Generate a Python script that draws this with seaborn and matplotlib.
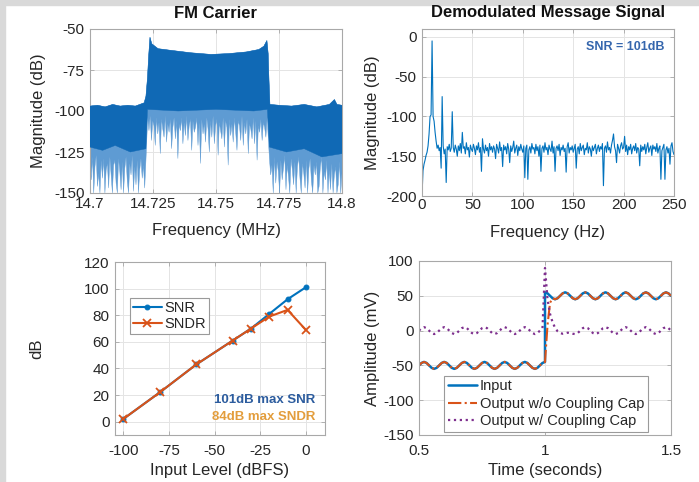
import numpy as np
import pandas as pd
import matplotlib
matplotlib.use("Agg")
import matplotlib.pyplot as plt
import seaborn as sns
from matplotlib.patches import Rectangle

# ---------------- data ----------------
# Panel 1: FM carrier spectrum, upper envelope (MHz, dB)
fm_top_freq = [14.700, 14.703, 14.706, 14.709, 14.712, 14.715, 14.718, 14.7215, 14.7222,
               14.7228, 14.7233, 14.7238, 14.7245, 14.727, 14.732, 14.740, 14.748,
               14.755, 14.762, 14.767, 14.769, 14.7702, 14.7707, 14.7710, 14.7714,
               14.775, 14.780, 14.785, 14.790, 14.795, 14.797, 14.798, 14.800]
fm_top_db = [-97, -96.5, -97.5, -96, -97, -96.5, -97, -95, -91,
             -80, -66, -55, -59, -62, -63, -64.5, -65.5,
             -65, -64, -62.5, -60.5, -57, -65, -80, -96,
             -96.5, -97, -96, -97.5, -96, -93, -96, -96.5]
# Panel 1: lower boundary of the dense (solid) part
fm_core_freq = [14.700, 14.705, 14.710, 14.716, 14.7222, 14.7228, 14.735, 14.750,
                14.765, 14.7704, 14.7712, 14.778, 14.785, 14.792, 14.800]
fm_core_db = [-122, -124, -121, -125, -123, -99, -100, -99,
              -100, -99, -122, -125, -123, -128, -126]
# Panel 1: downward noise spikes, read per region
fm_spike_left_db = [-131, -142, -128, -150, -134, -127, -146, -138, -150, -130, -141, -129,
                    -150, -136, -132, -147, -128, -139, -150, -133, -130, -144, -150, -129,
                    -137, -148, -131, -150, -135, -128, -143, -150, -132, -139, -127, -149,
                    -134, -145, -130, -150, -136, -129, -141, -133, -147, -130]
fm_spike_band_db = [-104, -112, -103, -118, -106, -109, -121, -104, -114, -107, -126, -105,
                    -111, -116, -103, -119, -108, -113, -105, -123, -110, -104, -117, -106,
                    -129, -108, -112, -104, -120, -107, -115, -103, -118, -109, -105, -124,
                    -106, -113, -110, -104, -121, -107, -132, -105, -114, -108, -119, -104,
                    -111, -125, -106, -116, -103, -120, -109, -105, -127, -107, -112, -117,
                    -104, -122, -106, -110, -133, -105, -115, -108, -119, -104, -113, -124,
                    -106, -109, -118, -103, -121, -107, -114, -105, -126, -108, -111, -117,
                    -104, -120, -106, -130, -109, -113, -105, -118, -107, -110, -116, -104]
fm_spike_right_db = [-129, -139, -133, -150, -128, -144, -131, -137, -150, -130, -142, -135,
                     -127, -148, -133, -140, -150, -129, -136, -145, -131, -150, -134, -128,
                     -141, -150, -132, -138, -147, -130, -150, -135, -129, -143, -150, -133,
                     -139, -131, -150, -146, -134, -128, -150, -137, -142, -130, -150, -136,
                     -148, -132, -150, -139, -134, -150, -145, -131, -150, -138]

# Panel 2: demodulated spectrum, one value per Hz (0..250 Hz)
demod_db = [
    -200, -168, -160, -155, -149, -145, -137, -122, -100, -98,
    -5, -100, -106, -120, -131, -140, -136, -143, -139, -165,
    -75, -137, -147, -141, -183, -138, -142, -135, -144, -140,
    -94, -139, -145, -136, -141, -150, -137, -143, -134, -146,
    -120, -140, -138, -147, -133, -142, -139, -151, -136, -141,
    -144, -135, -140, -148, -137, -142, -133, -145, -139, -169,
    -128, -141, -146, -136, -143, -139, -150, -134, -142, -138,
    -145, -137, -141, -153, -135, -140, -146, -132, -143, -139,
    -163, -136, -142, -138, -147, -134, -141, -158, -137, -144,
    -139, -131, -146, -140, -136, -149, -138, -143, -135, -141,
    -145, -137, -177, -140, -136, -179, -142, -138, -146, -134,
    -141, -139, -147, -135, -143, -138, -150, -136, -169, -140,
    -137, -145, -133, -142, -139, -148, -136, -141, -144, -131,
    -146, -138, -169, -140, -137, -143, -135, -149, -139, -142,
    -136, -144, -140, -170, -138, -133, -146, -139, -142, -137,
    -145, -140, -135, -165, -141, -138, -147, -134, -143, -139,
    -136, -148, -140, -142, -133, -146, -138, -141, -150, -137,
    -143, -139, -135, -147, -140, -136, -144, -138, -141, -134,
    -187, -140, -137, -145, -132, -142, -139, -146, -136, -130,
    -122, -138, -143, -158, -135, -140, -146, -137, -133, -141,
    -139, -125, -144, -136, -148, -138, -142, -135, -147, -140,
    -137, -143, -134, -146, -139, -141, -162, -136, -144, -138,
    -142, -135, -147, -139, -133, -145, -140, -137, -149, -136,
    -141, -138, -144, -134, -146, -140, -137, -179, -143, -139,
    -135, -179, -142, -138, -146, -140, -160, -137, -133, -144,
    -148]

# Panel 3: SNR / SNDR vs input level
level_dbfs = [-100, -80, -60, -40, -30, -20, -10, 0]
snr_db = [2, 22, 43, 61, 70, 81, 92, 101]
sndr_db = [2, 22, 43, 61, 70, 79, 84, 69]

# Panel 4: step response (mV), samples every 10 ms
input_before = [-50, -46.5, -45, -46.5, -50, -53.5, -55, -53.5,
                -50, -46.5, -45, -46.5, -50, -53.5, -55, -53.5,
                -50, -46.5, -45, -46.5, -50, -53.5, -55, -53.5,
                -50, -46.5, -45, -46.5, -50, -53.5, -55, -53.5,
                -50, -46.5, -45, -46.5, -50, -53.5, -55, -53.5,
                -50, -46.5, -45, -46.5, -50, -53.5, -55, -53.5,
                -50, -46.5, -45]
input_after = [55, 53.5, 50, 46.5, 45, 46.5, 50, 53.5,
               55, 53.5, 50, 46.5, 45, 46.5, 50, 53.5,
               55, 53.5, 50, 46.5, 45, 46.5, 50, 53.5,
               55, 53.5, 50, 46.5, 45, 46.5, 50, 53.5,
               55, 53.5, 50, 46.5, 45, 46.5, 50, 53.5,
               55, 53.5, 50, 46.5, 45, 46.5, 50, 53.5,
               55, 53.5, 50]
nocap_after = [8, 40, 46.5, 45, 46.5, 50, 53.5,
               55, 53.5, 50, 46.5, 45, 46.5, 50, 53.5,
               55, 53.5, 50, 46.5, 45, 46.5, 50, 53.5,
               55, 53.5, 50, 46.5, 45, 46.5, 50, 53.5,
               55, 53.5, 50, 46.5, 45, 46.5, 50, 53.5,
               55, 53.5, 50, 46.5, 45, 46.5, 50, 53.5,
               55, 53.5, 50]
cap_values = [0, 3.5, 5, 3.5, 0, -3.5, -5, -3.5,
              0, 3.5, 5, 3.5, 0, -3.5, -5, -3.5,
              0, 3.5, 5, 3.5, 0, -3.5, -5, -3.5,
              0, 3.5, 5, 3.5, 0, -3.5, -5, -3.5,
              0, 3.5, 5, 3.5, 0, -3.5, -5, -3.5,
              0, 3.5, 5, 3.5, 0, -3.5, -5, -3.5,
              0, 3.5,
              90, 45, 24, 12, 4, -1, -3.5, -4.5, -4, -3, -3.5, -4.5,
              -5, -3.5, 0, 3.5, 5, 3.5, 0, -3.5,
              -5, -3.5, 0, 3.5, 5, 3.5, 0, -3.5,
              -5, -3.5, 0, 3.5, 5, 3.5, 0, -3.5,
              -5, -3.5, 0, 3.5, 5, 3.5, 0, -3.5,
              -5, -3.5, 0, 3.5, 5, 3.5, 0]

# ---------------- style ----------------
BLUE = "#0072BD"
ORANGE = "#D95319"
PURPLE = "#7E2F8E"
EDGE = "#a8a8a8"
TXT = "#262626"

sns.set_theme(style="whitegrid")
plt.rcParams["font.family"] = ["Liberation Sans", "DejaVu Sans"]
plt.rcParams.update({
    "axes.unicode_minus": False,
    "axes.edgecolor": EDGE,
    "axes.linewidth": 0.8,
    "grid.color": "#e4e4e4",
    "grid.linewidth": 0.7,
    "xtick.color": EDGE,
    "ytick.color": EDGE,
    "xtick.labelcolor": TXT,
    "ytick.labelcolor": TXT,
    "xtick.direction": "in",
    "ytick.direction": "in",
    "xtick.labelsize": 11,
    "ytick.labelsize": 11,
    "axes.labelsize": 12,
    "axes.labelcolor": TXT,
    "legend.fontsize": 10.5,
})

fig = plt.figure(figsize=(6.99, 4.82), dpi=100)
fig.patch.set_facecolor("white")
fig.patches.append(Rectangle((0, 0), 5 / 699, 1, transform=fig.transFigure,
                             color="#d9d9d9", zorder=-10))
fig.patches.append(Rectangle((0, 1 - 5 / 482), 1, 5 / 482, transform=fig.transFigure,
                             color="#d9d9d9", zorder=-10))


def axpx(l, t, r, b):
    return fig.add_axes([l / 699, 1 - b / 482, (r - l) / 699, (b - t) / 482])


def finish(ax, xl, yl, xlab_y, ylab_x, xpad):
    ax.set_xlabel(xl)
    ax.set_ylabel(yl)
    ax.xaxis.set_label_coords(0.5, xlab_y)
    ax.yaxis.set_label_coords(ylab_x, 0.5)
    ax.xaxis.label.set_va("center")
    ax.yaxis.label.set_va("center")
    ax.tick_params(bottom=True, left=True, top=True, right=True, length=3,
                   width=0.6)
    ax.tick_params(axis="x", labeltop=False, pad=xpad)
    ax.tick_params(axis="y", labelright=False, pad=4)
    for s in ax.spines.values():
        s.set_visible(True)
        s.set_color(EDGE)
    ax.grid(True)
    ax.set_axisbelow(True)


def title(ax, text, px_above, height):
    ax.text(0.5, 1 + px_above / height, text, transform=ax.transAxes,
            ha="center", va="center", fontsize=12, fontweight="bold",
            color="#111111")


# ---------------- panel 1 ----------------
ax1 = axpx(90, 29, 342, 193)
f_left = np.linspace(14.7, 14.7222, len(fm_spike_left_db))
f_band = np.linspace(14.7229, 14.7703, len(fm_spike_band_db))
f_right = np.linspace(14.7712, 14.8, len(fm_spike_right_db))
light_x = list(fm_top_freq) + list(f_right[::-1]) + list(f_band[::-1]) + list(f_left[::-1])
light_y = list(fm_top_db) + fm_spike_right_db[::-1] + fm_spike_band_db[::-1] + fm_spike_left_db[::-1]
ax1.fill(light_x, light_y, color="#5e9bd3", lw=0.3, zorder=2)
core_x = list(fm_top_freq) + fm_core_freq[::-1]
core_y = list(fm_top_db) + fm_core_db[::-1]
ax1.fill(core_x, core_y, color="#1069b5", lw=0.3, zorder=3)
ax1.set_xlim(14.7, 14.8)
ax1.set_ylim(-150, -50)
ax1.set_xticks([14.7, 14.725, 14.75, 14.775, 14.8])
ax1.set_xticklabels(["14.7", "14.725", "14.75", "14.775", "14.8"])
ax1.set_yticks([-150, -125, -100, -75, -50])
ax1.set_yticklabels(["-150", "-125", "-100", "-75", "-50"])
finish(ax1, "Frequency (MHz)", "Magnitude (dB)", (193 - 230) / 164, (38 - 90) / 252, 3.0)
title(ax1, "FM Carrier", 16, 164)

# ---------------- panel 2 ----------------
ax2 = axpx(422, 29, 674, 196)
demod_freq = np.arange(len(demod_db))
df2 = pd.DataFrame({"f": demod_freq, "db": demod_db})
sns.lineplot(data=df2, x="f", y="db", ax=ax2, color=BLUE, lw=0.8,
             estimator=None, sort=False)
ax2.set_xlim(0, 250)
ax2.set_ylim(-200, 10)
ax2.set_xticks([0, 50, 100, 150, 200, 250])
ax2.set_yticks([-200, -150, -100, -50, 0])
ax2.set_yticklabels(["-200", "-150", "-100", "-50", "0"])
finish(ax2, "Frequency (Hz)", "Magnitude (dB)", (196 - 233) / 167, (373 - 422) / 252, 1.5)
title(ax2, "Demodulated Message Signal", 16, 167)
ax2.text(0.964, 0.895, "SNR = 101dB", transform=ax2.transAxes, ha="right",
         va="center", fontsize=9, fontweight="bold", color="#3566ad")

# ---------------- panel 3 ----------------
ax3 = axpx(115, 262, 325, 435)
sns.lineplot(x=level_dbfs, y=snr_db, ax=ax3, color=BLUE, lw=1.5, marker=".",
             markersize=7, markeredgecolor=BLUE, markerfacecolor=BLUE,
             label="SNR", estimator=None, sort=False)
sns.lineplot(x=level_dbfs, y=sndr_db, ax=ax3, color=ORANGE, lw=1.5, marker="x",
             markersize=6, markeredgecolor=ORANGE, markeredgewidth=1.3,
             label="SNDR", estimator=None, sort=False)
ax3.set_xlim(-104.5, 10.5)
ax3.set_ylim(-10, 120)
ax3.set_xticks([-100, -75, -50, -25, 0])
ax3.set_xticklabels(["-100", "-75", "-50", "-25", "0"])
ax3.set_yticks([0, 20, 40, 60, 80, 100, 120])
finish(ax3, "Input Level (dBFS)", "dB", (435 - 470) / 173, (37 - 115) / 210, 6.5)
leg3 = ax3.legend(loc="upper left", bbox_to_anchor=(0.07, 0.79), fancybox=False,
                  framealpha=1, edgecolor="#9a9a9a", handlelength=2.0,
                  borderpad=0.2, labelspacing=0.1, handletextpad=0.2,
                  borderaxespad=0)
leg3.get_frame().set_linewidth(0.8)
ax3.text(0.952, 0.202, "101dB max SNR", transform=ax3.transAxes, ha="right",
         va="center", fontsize=9.5, fontweight="bold", color="#2c5c9e")
ax3.text(0.952, 0.104, "84dB max SNDR", transform=ax3.transAxes, ha="right",
         va="center", fontsize=9.5, fontweight="bold", color="#e39d3c")

# ---------------- panel 4 ----------------
ax4 = axpx(419, 261, 671, 435)
t_before = np.linspace(0.5, 1.0, len(input_before))
t_after = np.linspace(1.0, 1.5, len(input_after))
t_input = np.concatenate([t_before, t_after])
v_input = input_before + input_after
t_nocap = np.concatenate([t_before, t_after[1:]])
v_nocap = input_before + nocap_after
t_cap = np.linspace(0.5, 1.5, len(cap_values))
sns.lineplot(x=t_input, y=v_input, ax=ax4, color=BLUE, lw=1.8,
             label="Input", estimator=None, sort=False)
sns.lineplot(x=t_nocap, y=v_nocap, ax=ax4, color=ORANGE, lw=1.5, linestyle="-.",
             label="Output w/o Coupling Cap", estimator=None, sort=False)
sns.lineplot(x=t_cap, y=cap_values, ax=ax4, color=PURPLE, lw=1.6, linestyle=":",
             label="Output w/ Coupling Cap", estimator=None, sort=False)
ax4.set_xlim(0.5, 1.5)
ax4.set_ylim(-150, 100)
ax4.set_xticks([0.5, 1, 1.5])
ax4.set_xticklabels(["0.5", "1", "1.5"])
ax4.set_yticks([-150, -100, -50, 0, 50, 100])
ax4.set_yticklabels(["-150", "-100", "-50", "0", "50", "100"])
finish(ax4, "Time (seconds)", "Amplitude (mV)", (435 - 470) / 174, (372 - 419) / 252, 6.5)
leg4 = ax4.legend(loc="lower left", bbox_to_anchor=(0.1, 0.02), fancybox=False,
                  framealpha=1, edgecolor="#9a9a9a", handlelength=2.0,
                  borderpad=0.25, labelspacing=0.22, handletextpad=0.2,
                  borderaxespad=0)
leg4.get_frame().set_linewidth(0.8)

fig.savefig("out.png", dpi=100)
